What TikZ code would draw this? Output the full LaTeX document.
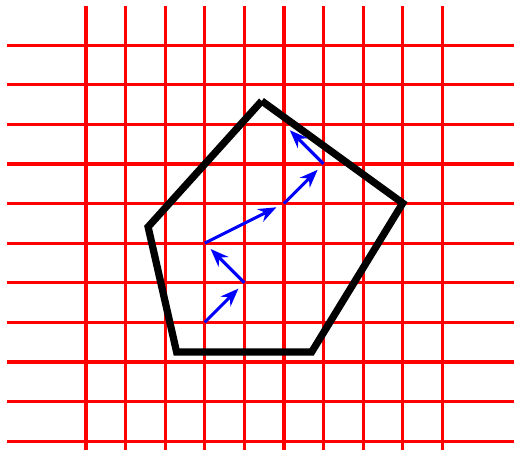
\documentclass[tikz,border=0pt]{standalone}
\usepackage{tikz}
\usetikzlibrary{arrows.meta}
\definecolor{walk_blue}{HTML}{0000FF}

\begin{document}
\begin{tikzpicture}[scale=1]
        \useasboundingbox (-2.17,-0.23) rectangle (10.81,11.14);
        % Grille
        \foreach \y in {0,...,10}
            \draw[red, line width=2.3pt] (-2,\y) -- (10.81,\y);
        \foreach \x in {0,...,9}
            \draw[red, line width=2.3pt] (\x,-0.23) -- (\x,11);
        % Polygone
        \coordinate (A) at (4.44,8.59);
        \coordinate (B) at (8.0,6.01);
        \coordinate (C) at (5.7,2.25);
        \coordinate (D) at (2.29,2.25);
        \coordinate (E) at (1.57,5.41);
        \draw[line width=5.2pt] (A) -- (B) -- (C) -- (D) -- (E) -- (A);
        % Chemin
        \coordinate (w0) at (3,3);
        \coordinate (w1) at (4,4);
        \coordinate (w2) at (3,5);
        \coordinate (w3) at (5,6);
        \coordinate (w4) at (6,7);
        \coordinate (w5) at (5,8);
        \foreach \a/\b in {w0/w1,w1/w2,w2/w3,w3/w4,w4/w5}
            \draw[walk_blue, line width=2.2pt, shorten >=6pt, -{Stealth[length=13pt,width=10pt]}] (\a) -- (\b);
    \end{tikzpicture}
\end{document}
